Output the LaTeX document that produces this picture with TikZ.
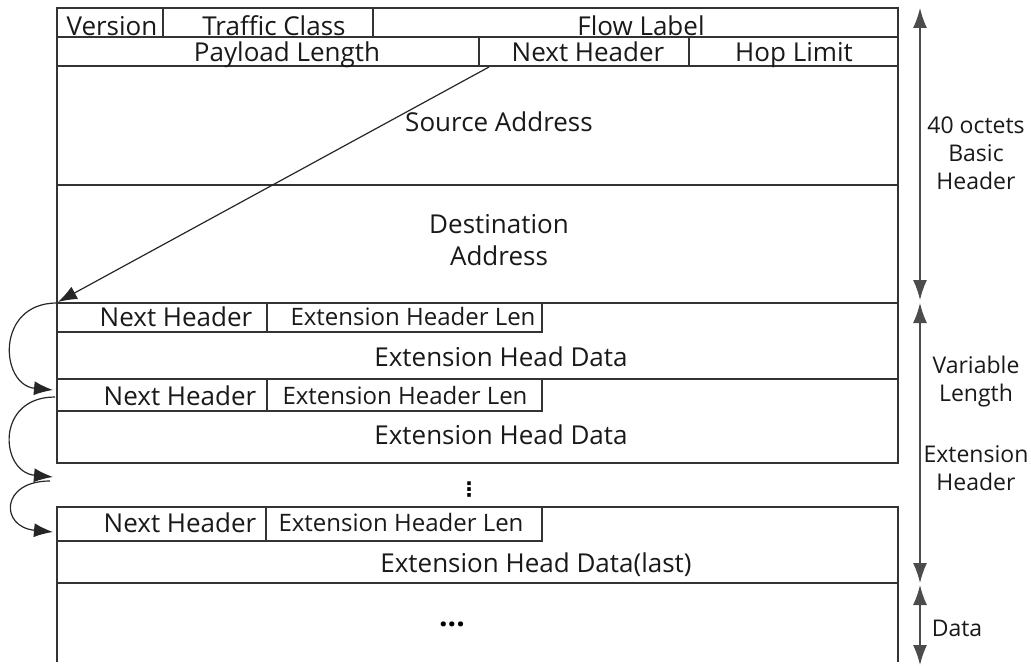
\documentclass[tikz,border=0pt]{standalone}
\usepackage{fontspec}
\setmainfont{Open Sans}
\newfontfamily\dejavu{DejaVu Sans}
\usetikzlibrary{arrows.meta}
\begin{document}
\begin{tikzpicture}[x=1pt,y=-1pt,
  frame/.style={draw=black!80,line width=1.5pt},
  thin/.style={draw=black!80,line width=1.3pt},
  lbl/.style={inner sep=0pt,text height=18.5pt,text depth=0pt,text=black!90,font=\fontsize{26}{32}\selectfont},
  slbl/.style={inner sep=0pt,text height=17pt,text depth=0pt,text=black!90,font=\fontsize{24}{28}\selectfont},
  rlbl/.style={inner sep=0pt,text height=16.5pt,text depth=0pt,text=black!90,font=\fontsize{23}{28}\selectfont},
  mlbl/.style={inner sep=0pt,align=center,text=black!90,font=\fontsize{26}{32}\selectfont},
  rmlbl/.style={inner sep=0pt,align=center,text=black!90,font=\fontsize{23}{28}\selectfont},
  chain/.style={draw=black!85,line width=1.2pt,-{Latex[length=19pt,width=14pt]}},
  span/.style={draw=black!70,line width=1.5pt,{Latex[length=20pt,width=14pt]}-{Latex[length=20pt,width=14pt]}}]
\useasboundingbox (0,0) rectangle (1031,666);
% basic header
\draw[frame] (57,8) rectangle (898,303);
\draw[frame] (57,37) -- (898,37);
\draw[frame] (57,66) -- (898,66);
\draw[frame] (57,185) -- (898,185);
\draw[thin] (163,8) -- (163,37);
\draw[thin] (373,8) -- (373,37);
\draw[thin] (479,37) -- (479,66);
\draw[thin] (689,37) -- (689,66);
% extension header 1
\draw[frame] (57,303) -- (57,379) (898,303) -- (898,379);
\draw[thin] (57,332) -- (542,332) -- (542,303);
\draw[thin] (267,303) -- (267,332);
% extension header 2
\draw[frame] (57,379) -- (898,379);
\draw[frame] (57,379) -- (57,463) -- (898,463) -- (898,379);
\draw[thin] (57,411) -- (542,411) -- (542,379);
\draw[thin] (267,379) -- (267,411);
% last extension header and data
\draw[frame] (57,662) -- (57,507) -- (898,507) -- (898,662);
\draw[thin] (57,541) -- (542,541) -- (542,507);
\draw[thin] (266,507) -- (266,541);
\draw[frame] (57,583) -- (898,583);
% texts
\node[lbl] (ver) at (112,26) {Version};
\node[lbl] (tc) at (274,26) {Traffic Class};
\node[lbl] (fl) at (641,26) {Flow Label};
\node[lbl] (pl) at (287,52) {Payload Length};
\node[lbl] (nh) at (588,52) {Next Header};
\node[lbl] (hl) at (794,52) {Hop Limit};
\node[lbl] (src) at (499,122) {Source Address};
\node[mlbl] (dst) at (499,240) {Destination\\Address};
\node[lbl] (nh1) at (176,317) {Next Header};
\node[slbl] (len1) at (413,317) {Extension Header Len};
\node[lbl] (data1) at (501,357) {Extension Head Data};
\node[lbl] (nh2) at (180,396) {Next Header};
\node[slbl] (len2) at (405,396) {Extension Header Len};
\node[lbl] (data2) at (501,435) {Extension Head Data};
\node[inner sep=0pt,font=\dejavu\bfseries\fontsize{20}{24}\selectfont] (vdots) at (469,490) {⋮};
\node[lbl] (nh3) at (180,523) {Next Header};
\node[slbl] (len3) at (401,523) {Extension Header Len};
\node[lbl] (data3) at (536,563) {Extension Head Data(last)};
\node[inner sep=0pt,font=\fontsize{30}{32}\selectfont\bfseries] (dots) at (452,624) {...};
% right labels
\node[rmlbl] (basic) at (976,153) {40 octets\\Basic\\Header};
\node[rmlbl] (var) at (976,382) {Variable\\Length};
\node[rmlbl] (ext) at (976,468) {Extension\\Header};
\node[rlbl] (dlab) at (957,628) {Data};
% chain arrows
\coordinate (a0) at (489,67);
\coordinate (a1) at (58,302);
\coordinate (b0) at (57,303);
\coordinate (b1) at (53,390);
\coordinate (c0) at (55,397);
\coordinate (c1) at (53,477);
\coordinate (d0) at (50,481);
\coordinate (d1) at (53,532);
\draw[chain] (a0) -- (a1);
\draw[chain] (b0) .. controls (-5,303) and (0,385) .. (b1);
\draw[chain] (c0) .. controls (-5,397) and (0,472) .. (c1);
\draw[chain] (d0) .. controls (0,481) and (0,527) .. (d1);
% span arrows
\coordinate (s0) at (920,8);
\coordinate (s1) at (920,300);
\coordinate (s2) at (920,303);
\coordinate (s3) at (920,583);
\coordinate (s4) at (920,585);
\coordinate (s5) at (920,665);
\draw[span] (s0) -- (s1);
\draw[span] (s2) -- (s3);
\draw[span] (s4) -- (s5);
\end{tikzpicture}
\end{document}
